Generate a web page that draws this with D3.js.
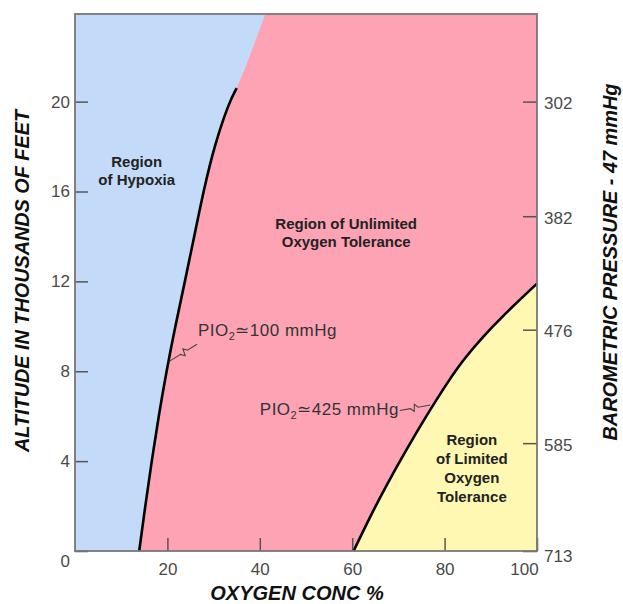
<!DOCTYPE html>
<html>
<head>
<meta charset="utf-8">
<script src="https://cdn.jsdelivr.net/npm/d3@7"></script>
<style>
    body { margin: 0; background: #fff; }
    text { font-family: "Liberation Sans", Arial, Helvetica, sans-serif; }
</style>
</head>
<body>
<svg id="chart" width="623" height="604"></svg>
<script>
// PIO2 ~ 100 mmHg boundary (altitude in thousands of feet, oxygen %)
var hypoAlt = [0, 2, 4, 6, 8, 10, 12, 14, 16, 18, 20, 20.6];
var hypoO2  = [13.9, 15.2, 16.6, 18.1, 19.8, 21.7, 23.8, 25.8, 27.8, 30.1, 33.4, 35.0];
// same boundary above the drawn line, up to the top of the chart
var hypoExtAlt = [21.5, 23.9];
var hypoExtO2  = [36.9, 41.2];

// PIO2 ~ 425 mmHg boundary
var limAlt = [0, 1.5, 3, 4.5, 6, 7.5, 8.5, 9.5, 10.5, 11.5, 11.9];
var limO2  = [60.3, 63.8, 67.6, 71.7, 76.0, 80.6, 84.0, 88.1, 92.8, 97.9, 100];

var leftTicks = [0, 4, 8, 12, 16, 20];
var bottomTicks = [20, 40, 60, 80, 100];
var rightTickAlt = [20, 14.9, 9.85, 4.8, 0];
var rightTickLabels = ["302", "382", "476", "585", "713"];

var svg = d3.select("#chart");

var x = d3.scaleLinear().domain([0, 100]).range([75, 537]);
var y = d3.scaleLinear().domain([0, 23.9]).range([551, 14]);

var hypo = hypoAlt.map(function(a, i){ return {alt: a, o2: hypoO2[i]}; });
var hypoFull = hypo.concat(hypoExtAlt.map(function(a, i){ return {alt: a, o2: hypoExtO2[i]}; }));
var lim = limAlt.map(function(a, i){ return {alt: a, o2: limO2[i]}; });

// pink background = unlimited tolerance
svg.append("rect")
    .attr("x", x(0)).attr("y", y(23.9))
    .attr("width", x(100) - x(0)).attr("height", y(0) - y(23.9))
    .attr("fill", "#fda3b4");

var blueArea = d3.area()
    .curve(d3.curveBasis)
    .y(function(d){ return y(d.alt); })
    .x0(x(0))
    .x1(function(d){ return x(d.o2); });

svg.append("path")
    .attr("d", blueArea(hypoFull))
    .attr("fill", "#c3dbf8");

var yellowArea = d3.area()
    .curve(d3.curveBasis)
    .y(function(d){ return y(d.alt); })
    .x0(function(d){ return x(d.o2); })
    .x1(x(100));

svg.append("path")
    .attr("d", yellowArea(lim))
    .attr("fill", "#fef8b2");

var line = d3.line()
    .curve(d3.curveBasis)
    .x(function(d){ return x(d.o2); })
    .y(function(d){ return y(d.alt); });

svg.append("path")
    .attr("d", line(hypo))
    .attr("fill", "none").attr("stroke", "#000").attr("stroke-width", 2.6);

svg.append("path")
    .attr("d", line(lim))
    .attr("fill", "none").attr("stroke", "#000").attr("stroke-width", 2.6);

// axes
function styleAxis(g) {
    g.select(".domain").remove();
    g.selectAll(".tick line").attr("stroke", "#555").attr("stroke-width", 1.5);
    g.selectAll(".tick text").attr("fill", "#4a4a4a").attr("font-size", 17)
        .style("font-family", "'Liberation Sans', Arial, sans-serif");
}

var gLeft = svg.append("g")
    .attr("transform", "translate(" + x(0) + ",0)")
    .call(d3.axisLeft(y).tickValues(leftTicks).tickSize(-13).tickPadding(5).tickFormat(d3.format("d")))
    .call(styleAxis);
gLeft.selectAll(".tick").filter(function(d){ return d === 0; })
    .select("text").attr("dy", "0.9em");

var gBottom = svg.append("g")
    .attr("transform", "translate(0," + y(0) + ")")
    .call(d3.axisBottom(x).tickValues(bottomTicks).tickSize(-13).tickPadding(12))
    .call(styleAxis);
gBottom.selectAll(".tick").filter(function(d){ return d === 100; })
    .select("text").attr("dx", -13);

var gRight = svg.append("g")
    .attr("transform", "translate(" + x(100) + ",0)")
    .call(d3.axisRight(y).tickValues(rightTickAlt).tickSize(-14).tickPadding(7)
        .tickFormat(function(d, i){ return rightTickLabels[i]; }))
    .call(styleAxis);
gRight.selectAll(".tick text").attr("dy", "0.42em");
gRight.selectAll(".tick").filter(function(d){ return d === 0; })
    .select("text").attr("dy", "0.6em");

// frame
svg.append("rect")
    .attr("x", x(0)).attr("y", y(23.9))
    .attr("width", x(100) - x(0)).attr("height", y(0) - y(23.9))
    .attr("fill", "none").attr("stroke", "#777").attr("stroke-width", 1.8);

// region labels
function block(cx, alt0, lines, step) {
    var t = svg.append("text")
        .attr("text-anchor", "middle")
        .attr("font-size", 15).attr("font-weight", "bold").attr("fill", "#222");
    lines.forEach(function(s, i){
        t.append("tspan").attr("x", x(cx)).attr("y", y(alt0) + i * step).text(s);
    });
}
block(13.35, 17.1, ["Region", "of Hypoxia"], 18.5);
block(58.7, 14.33, ["Region of Unlimited", "Oxygen Tolerance"], 18);
block(85.9, 4.72, ["Region", "of Limited", "Oxygen", "Tolerance"], 19);

// PIO2 labels
function pio(o2, alt, value) {
    var t = svg.append("text")
        .attr("x", x(o2)).attr("y", y(alt))
        .attr("font-size", 17).attr("letter-spacing", 0.5).attr("fill", "#333");
    t.append("tspan").text("PIO");
    t.append("tspan").attr("font-size", 11).attr("dy", 4).text("2");
    t.append("tspan").attr("dy", -4).text("\u2243" + value + " mmHg");
}
pio(26.6, 9.55, "100");
pio(40.0, 6.05, "425");

// leader lines with a small break mark
function leader(p0, p1) {
    var dx = p1[0] - p0[0], dy = p1[1] - p0[1];
    var len = Math.sqrt(dx * dx + dy * dy);
    var ux = dx / len, uy = dy / len, nx = -uy, ny = ux;
    function at(t, off) { return [p0[0] + dx * t + nx * off, p0[1] + dy * t + ny * off]; }
    var pts = [p0, at(0.35, 0), at(0.45, 3.5), at(0.5, -3.5), at(0.6, 0), p1];
    svg.append("path")
        .attr("d", d3.line()(pts))
        .attr("fill", "none").attr("stroke", "#444").attr("stroke-width", 1.1);
}
leader([x(26.4), y(9.2)], [x(20.5), y(8.45)]);
leader([x(70.3), y(6.25)], [x(76.9), y(6.5)]);

// axis titles
svg.append("text")
    .attr("transform", "translate(29,281) rotate(-90)")
    .attr("text-anchor", "middle")
    .attr("font-size", 20).attr("font-weight", "bold").attr("font-style", "italic")
    .attr("fill", "#111")
    .attr("textLength", 342).attr("lengthAdjust", "spacingAndGlyphs")
    .text("ALTITUDE IN THOUSANDS OF FEET");

svg.append("text")
    .attr("transform", "translate(617,262) rotate(-90)")
    .attr("text-anchor", "middle")
    .attr("font-size", 20).attr("font-weight", "bold").attr("font-style", "italic")
    .attr("fill", "#111")
    .attr("textLength", 357).attr("lengthAdjust", "spacingAndGlyphs")
    .text("BAROMETRIC PRESSURE - 47 mmHg");

svg.append("text")
    .attr("x", 297).attr("y", 600)
    .attr("text-anchor", "middle")
    .attr("font-size", 20).attr("font-weight", "bold").attr("font-style", "italic")
    .attr("fill", "#111")
    .text("OXYGEN CONC %");
</script>
</body>
</html>
